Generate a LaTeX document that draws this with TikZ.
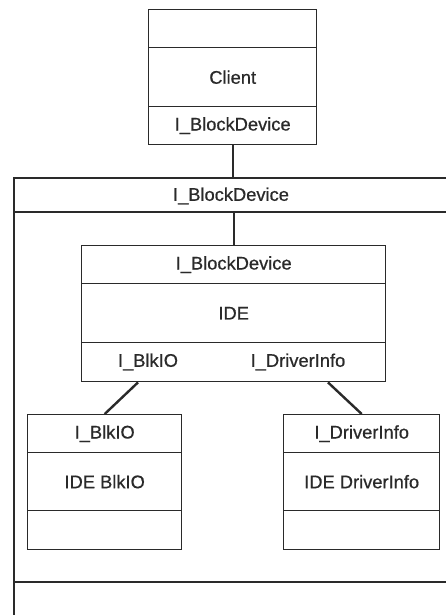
\documentclass[tikz,border=0pt]{standalone}
\usepackage{fontspec}
\setmainfont{Liberation Sans}[FakeBold=0.6]
\usetikzlibrary{calc}
\definecolor{ink}{HTML}{2A2A2A}
\tikzset{
  cell/.style={draw=ink, line width=1.4pt, inner sep=0pt, anchor=north west,
    font=\fontsize{18.3}{20}\selectfont, text=ink},
  label/.style={inner sep=0pt, font=\fontsize{18.3}{20}\selectfont, text=ink},
  wire/.style={draw=ink, line width=2.4pt},
  frame/.style={draw=ink, line width=1.4pt}
}
\newcommand{\cellbox}[6]{% name, x, y, width, height, text
  \node[cell, minimum width=#4pt, minimum height=#5pt] (#1) at (#2,#3) {#6};}
\begin{document}
\begin{tikzpicture}[x=1pt,y=-1pt]
\useasboundingbox (0,0) rectangle (446,615);
\fill[white] (0,0) rectangle (446,615);

% client component
\cellbox{clientTop}{148}{9}{168}{38}{}
\cellbox{clientName}{148}{47}{168}{59}{Client}
\cellbox{clientIf}{148}{106}{168}{38}{I\_BlockDevice}

% enclosing package (open to the right and below)
\draw[frame] (446,178) -- (14,178) -- (14,615);
\draw[frame] (14,212) -- (446,212);
\draw[frame] (14,582) -- (446,582);
\node[label] (outerIf) at (231,196) {I\_BlockDevice};
\coordinate (outerTop) at (231,178);
\coordinate (outerSep) at (231,212);

% IDE component
\cellbox{ideIf}{81}{245}{304}{38}{I\_BlockDevice}
\cellbox{ideName}{81}{283}{304}{59}{IDE}
\cellbox{idePorts}{81}{342}{304}{39}{}
\node[label] (blkPort) at (148,362) {I\_BlkIO};
\node[label] (drvPort) at (298,362) {I\_DriverInfo};

% BlkIO component
\cellbox{blkIf}{27}{414}{154}{38}{I\_BlkIO}
\cellbox{blkName}{27}{452}{154}{58}{IDE BlkIO}
\cellbox{blkRest}{27}{510}{154}{39}{}

% DriverInfo component
\cellbox{drvIf}{283}{414}{156}{38}{I\_DriverInfo}
\cellbox{drvName}{283}{452}{156}{58}{IDE DriverInfo}
\cellbox{drvRest}{283}{510}{156}{39}{}

% connectors
\draw[wire] (clientIf.south) -- (clientIf.south |- outerTop);
\draw[wire] (ideIf.north |- outerSep) -- (ideIf.north);
\draw[wire] ([xshift=-10pt]blkPort.south |- idePorts.south) -- (blkIf.north);
\draw[wire] ([xshift=30pt]drvPort.south |- idePorts.south) -- (drvIf.north);
\end{tikzpicture}
\end{document}
